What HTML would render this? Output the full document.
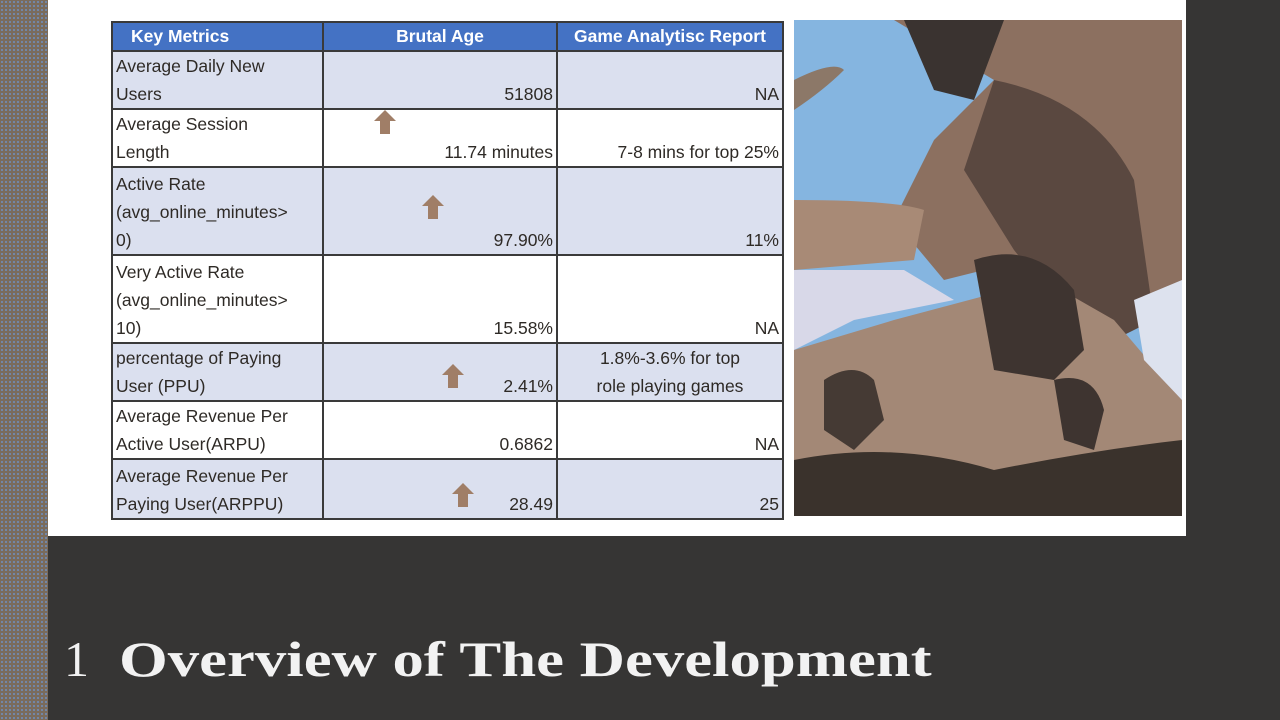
<!DOCTYPE html>
<html><head><meta charset="utf-8"><style>
body{margin:0;width:1280px;height:720px;background:#363534;position:relative;overflow:hidden;font-family:"Liberation Sans",sans-serif}
#strip{position:absolute;left:0;top:0;width:48px;height:720px;background:#7a6b5c;background-image:radial-gradient(#6f8fc0 0.8px,transparent 1px);background-size:4px 4px}
#panel{position:absolute;left:48px;top:0;width:1138px;height:536px;background:#fff}
table{position:absolute;left:111px;top:21px;border-collapse:collapse;font-size:17.5px;color:#2e2a26;table-layout:fixed;width:671px}
td,th{border:2px solid #3a3a3a;padding:0 3px;vertical-align:bottom;line-height:28px;white-space:nowrap;overflow:hidden}
th{background:#4472c4;color:#fff;font-weight:bold;height:27px;line-height:27px;font-size:17.5px}
tr.a td{background:#dbe0ef}
td.v{text-align:right}
.arr{position:absolute;width:22px;height:24px}
#title{position:absolute;left:64px;top:630px;color:#f2f2f2;font-family:"Liberation Serif",serif;font-size:50px;white-space:nowrap}
#title b{display:inline-block;transform:scaleX(1.255);transform-origin:0 0}
</style></head><body>
<div id="strip"></div>
<div id="panel"></div>
<table>
<colgroup><col style="width:211px"><col style="width:234px"><col style="width:226px"></colgroup>
<tr><th style="text-align:left;padding-left:18px">Key Metrics</th><th>Brutal Age</th><th>Game Analytisc Report</th></tr>
<tr class="a" style="height:58px"><td>Average Daily New<br>Users</td><td class="v">51808</td><td class="v">NA</td></tr>
<tr style="height:58px"><td>Average Session<br>Length</td><td class="v">11.74 minutes</td><td class="v">7-8 mins for top 25%</td></tr>
<tr class="a" style="height:88px"><td>Active Rate<br>(avg_online_minutes&gt;<br>0)</td><td class="v">97.90%</td><td class="v">11%</td></tr>
<tr style="height:88px"><td>Very Active Rate<br>(avg_online_minutes&gt;<br>10)</td><td class="v">15.58%</td><td class="v">NA</td></tr>
<tr class="a" style="height:58px"><td>percentage of Paying<br>User (PPU)</td><td class="v">2.41%</td><td style="text-align:center">1.8%-3.6% for top<br>role playing games</td></tr>
<tr style="height:58px"><td>Average Revenue Per<br>Active User(ARPU)</td><td class="v">0.6862</td><td class="v">NA</td></tr>
<tr class="a" style="height:60px"><td>Average Revenue Per<br>Paying User(ARPPU)</td><td class="v">28.49</td><td class="v">25</td></tr>
</table>
<svg class="arr" style="left:374px;top:110px" viewBox="0 0 22 24"><path d="M11 0L22 11H16V24H6V11H0Z" fill="#a07e67"/></svg>
<svg class="arr" style="left:422px;top:195px" viewBox="0 0 22 24"><path d="M11 0L22 11H16V24H6V11H0Z" fill="#a07e67"/></svg>
<svg class="arr" style="left:442px;top:364px" viewBox="0 0 22 24"><path d="M11 0L22 11H16V24H6V11H0Z" fill="#a07e67"/></svg>
<svg class="arr" style="left:452px;top:483px" viewBox="0 0 22 24"><path d="M11 0L22 11H16V24H6V11H0Z" fill="#a07e67"/></svg>
<svg style="position:absolute;left:794px;top:20px" width="388" height="496" viewBox="0 0 388 496">
<rect width="388" height="496" fill="#85b5e0"/>
<path d="M100 0H388V330L360 300 340 260 300 230 230 240 150 260 100 200 140 120 200 60Z" fill="#8c7060"/>
<path d="M110 0H210L180 80 140 70Z" fill="#3a3330"/>
<path d="M0 180Q100 180 130 190L120 240 0 250Z" fill="#a88a76"/>
<path d="M0 60Q40 40 50 50 30 70 0 90Z" fill="#8c7868"/>
<path d="M200 60Q300 80 340 160L360 300 300 330 220 230 170 150Z" fill="#5a4840"/>
<path d="M0 250H110L160 280 60 300 0 330Z" fill="#d8d8e8"/>
<path d="M0 330L100 300 250 260 320 300 388 380V496H0Z" fill="#a38876"/>
<path d="M340 280L388 260V380L350 340Z" fill="#dde2ee"/>
<path d="M180 240Q240 220 280 270L290 330 260 360 200 350Z" fill="#3e3430"/>
<path d="M30 360Q60 340 80 360L90 400 60 430 30 410Z" fill="#453a34"/>
<path d="M260 360Q300 350 310 390L300 430 270 420Z" fill="#3e3430"/>
<path d="M0 440Q100 420 200 450 300 430 388 420V496H0Z" fill="#3a322c"/>
</svg>
<div id="title"><span style="margin-right:30px">1</span><b>Overview of The Development</b></div>
</body></html>
